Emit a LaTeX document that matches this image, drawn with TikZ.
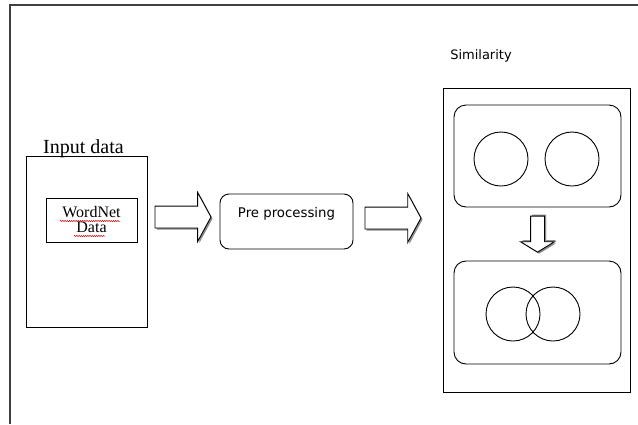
\documentclass[tikz,border=0pt]{standalone}
\usepackage{fontspec}
\setmainfont{Liberation Serif}
\newfontfamily\uifont{DejaVu Sans}
\usetikzlibrary{shapes.arrows,shadows,decorations.pathmorphing}
\tikzset{
  box/.style={draw,line width=0.9pt,inner sep=0pt},
  roundbox/.style={box,rounded corners=9pt},
  ring/.style={draw,line width=0.9pt,circle,minimum size=54pt,inner sep=0pt},
  blockarrow/.style={draw,line width=0.9pt,fill=white,single arrow,inner sep=0pt,
    text height=21pt,text depth=0pt,minimum height=56pt,minimum width=48pt,
    single arrow head extend=13.5pt,single arrow tip angle=123,
    drop shadow={shadow xshift=1.6pt,shadow yshift=-1.6pt,fill=black!45,opacity=1}},
  squiggle/.style={red!80!black,line width=0.5pt,decorate,
    decoration={snake,segment length=2.2pt,amplitude=0.6pt}}
}
\begin{document}
\begin{tikzpicture}[x=1pt,y=-1pt]
	\useasboundingbox (0,0) rectangle (638,424);
	% frame
	\draw[black!75,line width=1.6pt] (10,424) -- (10,5) -- (638,5);
	% input side
	\node[box,minimum width=121pt,minimum height=171pt] (input) at (86.5,241.5) {};
	\node[anchor=base,font=\fontsize{20}{20}\selectfont] (inputlbl) at (83.5,153) {Input data};
	\node[box,minimum width=91pt,minimum height=44pt,align=center,font=\fontsize{16}{15}\selectfont] (wordnet) at (91.5,220) {WordNet\\Data};
	\draw[squiggle] (60,221) -- (120,221);
	\draw[squiggle] (74,236) -- (105,236);
	% processing
	\node[blockarrow] (arr1) at (180,217) {};
	\node[roundbox,minimum width=133pt,minimum height=55pt,
	  label={[anchor=base,yshift=-24pt,font=\uifont\fontsize{13.3}{14}\selectfont]north:Pre processing}] (pre) at (286.5,221.5) {};
	\node[blockarrow] (arr2) at (390,218) {};
	% similarity side
	\node[anchor=base,font=\uifont\fontsize{13}{14}\selectfont] (simlbl) at (481,59) {Similarity};
	\node[box,minimum width=187pt,minimum height=304pt] (sim) at (536.5,240) {};
	\node[roundbox,rounded corners=12pt,minimum width=167pt,minimum height=102pt] (apart) at (537.5,156) {};
	\node[ring] (ca) at (501,159) {};
	\node[ring] (cb) at (572,159) {};
	\node[blockarrow,rotate=-90,text height=13pt,minimum height=36pt,minimum width=33pt,
	  single arrow head extend=10pt,single arrow tip angle=117,
	  drop shadow={shadow xshift=1.6pt,shadow yshift=1.6pt,fill=black!45,opacity=1}] (arr3) at (537.5,232) {};
	\node[roundbox,rounded corners=12pt,minimum width=167pt,minimum height=103pt] (overlap) at (537.5,312.5) {};
	\node[ring] (cc) at (513,314) {};
	\node[ring] (cd) at (553,314) {};
\end{tikzpicture}
\end{document}
